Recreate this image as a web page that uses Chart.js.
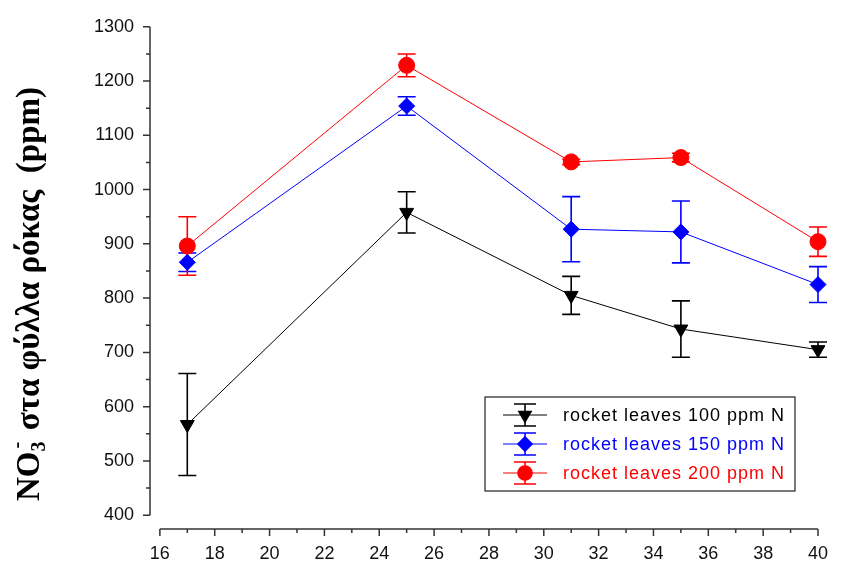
<!DOCTYPE html>
<html>
<head>
<meta charset="utf-8">
<script src="https://cdn.jsdelivr.net/npm/chart.js@4.4.1/dist/chart.umd.min.js"></script>
<style>
	html, body { margin: 0; padding: 0; background: #fff; }
	canvas { display: block; }
</style>
</head>
<body>
<canvas id="chart" width="842" height="565"></canvas>
<script>
const xValues = [17, 25, 31, 35, 40];

const n100 = [567, 958, 805, 743, 705];
const err100 = [94, 38, 35, 52, 14];

const n150 = [866, 1154, 927, 922, 825];
const err150 = [17, 17, 60, 57, 33];

const n200 = [896, 1229, 1051, 1059, 904];
const err200 = [54, 21, 5, 8, 27];

const seriesLabels = ['rocket leaves 100 ppm N', 'rocket leaves 150 ppm N', 'rocket leaves 200 ppm N'];

const xTickLabels = [16, 18, 20, 22, 24, 26, 28, 30, 32, 34, 36, 38, 40];
const xMinorTicks = [17, 19, 21, 23, 25, 27, 29, 31, 33, 35, 37, 39];
const yTickLabels = [400, 500, 600, 700, 800, 900, 1000, 1100, 1200, 1300];
const yMinorTicks = [450, 550, 650, 750, 850, 950, 1050, 1150, 1250];

const tickFont = { family: 'Liberation Sans, Arial, sans-serif', size: 18 };
const axisColor = '#333';

function points (ys) {
	return xValues.map((x, i) => ({ x: x, y: ys[i] }));
}

function makeSet (label, ys, errs, color, style, rotation) {
	return {
		label: label,
		data: points(ys),
		errors: errs,
		borderColor: color,
		backgroundColor: color,
		borderWidth: 1,
		pointStyle: style,
		pointRotation: rotation,
		pointRadius: 8,
		pointBorderWidth: 1,
		pointBackgroundColor: color,
		pointBorderColor: color,
		clip: false,
		tension: 0
	};
}

const errorBars = {
	id: 'errorBars',
	beforeDatasetsDraw (chart) {
		const ctx = chart.ctx;
		const x = chart.scales.x, y = chart.scales.y;
		ctx.save();
		chart.data.datasets.forEach(ds => {
			ctx.strokeStyle = ds.borderColor;
			ctx.lineWidth = 1.6;
			ds.data.forEach((p, i) => {
				const px = x.getPixelForValue(p.x);
				const top = y.getPixelForValue(p.y + ds.errors[i]);
				const bot = y.getPixelForValue(p.y - ds.errors[i]);
				ctx.beginPath();
				ctx.moveTo(px, top); ctx.lineTo(px, bot);
				ctx.moveTo(px - 9, top); ctx.lineTo(px + 9, top);
				ctx.moveTo(px - 9, bot); ctx.lineTo(px + 9, bot);
				ctx.stroke();
			});
		});
		ctx.restore();
	}
};

const axesPlugin = {
	id: 'axesPlugin',
	afterDraw (chart) {
		const ctx = chart.ctx;
		const x = chart.scales.x, y = chart.scales.y;
		const left = chart.chartArea.left, bottom = chart.chartArea.bottom;
		ctx.save();
		ctx.strokeStyle = axisColor;
		ctx.lineWidth = 1.5;
		ctx.beginPath();
		// y axis
		ctx.moveTo(left, y.getPixelForValue(1300));
		ctx.lineTo(left, y.getPixelForValue(400));
		yTickLabels.forEach(v => {
			const py = y.getPixelForValue(v);
			ctx.moveTo(left, py); ctx.lineTo(left - 7, py);
		});
		yMinorTicks.forEach(v => {
			const py = y.getPixelForValue(v);
			ctx.moveTo(left, py); ctx.lineTo(left - 4, py);
		});
		// x axis
		ctx.moveTo(x.getPixelForValue(16), bottom);
		ctx.lineTo(x.getPixelForValue(40), bottom);
		xTickLabels.forEach(v => {
			const px = x.getPixelForValue(v);
			ctx.moveTo(px, bottom); ctx.lineTo(px, bottom + 7);
		});
		xMinorTicks.forEach(v => {
			const px = x.getPixelForValue(v);
			ctx.moveTo(px, bottom); ctx.lineTo(px, bottom + 4);
		});
		ctx.stroke();

		// y title with sub/superscript
		const big = 'bold 33px "Liberation Serif", "Times New Roman", serif';
		const small = 'bold 20px "Liberation Serif", "Times New Roman", serif';
		const rest = ' στα φύλλα ρόκας  (ppm)';
		ctx.font = big;
		const wNO = ctx.measureText('NO').width;
		const wRest = ctx.measureText(rest).width;
		ctx.font = small;
		const wSub = ctx.measureText('3').width + 3;
		const total = wNO + wSub + wRest;
		ctx.translate(39, 294);
		ctx.rotate(-Math.PI / 2);
		ctx.fillStyle = '#000';
		ctx.textBaseline = 'alphabetic';
		let cx = -total / 2;
		ctx.font = big;
		ctx.fillText('NO', cx, 0);
		cx += wNO;
		ctx.font = small;
		ctx.fillText('3', cx, 6);
		ctx.fillText('-', cx + 3, -16);
		cx += wSub;
		ctx.font = big;
		ctx.fillText(rest, cx, 0);
		ctx.restore();

		// legend
		ctx.save();
		ctx.strokeStyle = '#222';
		ctx.lineWidth = 1.2;
		ctx.strokeRect(485, 397, 310, 94);
		const rows = [415, 444, 473];
		ctx.font = '18px "Liberation Sans", Arial, sans-serif';
		ctx.letterSpacing = '1px';
		ctx.textBaseline = 'middle';
		chart.data.datasets.forEach((ds, i) => {
			const ry = rows[i];
			ctx.strokeStyle = ds.borderColor;
			ctx.lineWidth = 1;
			ctx.beginPath();
			ctx.moveTo(503, ry); ctx.lineTo(547, ry);
			ctx.stroke();
			ctx.lineWidth = 1.6;
			ctx.beginPath();
			ctx.moveTo(525, ry - 11); ctx.lineTo(525, ry + 11);
			ctx.moveTo(514, ry - 11); ctx.lineTo(536, ry - 11);
			ctx.moveTo(514, ry + 11); ctx.lineTo(536, ry + 11);
			ctx.stroke();
			ctx.fillStyle = ds.borderColor;
			Chart.helpers.drawPoint(ctx, {
				pointStyle: ds.pointStyle, rotation: ds.pointRotation, radius: 7, borderWidth: 1
			}, 525, ry);
			ctx.fillStyle = ds.borderColor;
			ctx.fillText(ds.label, 563, ry + 1);
		});
		ctx.restore();
	}
};

new Chart(document.getElementById('chart'), {
	type: 'line',
	data: {
		datasets: [
			makeSet(seriesLabels[0], n100, err100, '#000000', 'triangle', 180),
			makeSet(seriesLabels[1], n150, err150, '#0000ff', 'rectRot', 0),
			makeSet(seriesLabels[2], n200, err200, '#ff0000', 'circle', 0)
		]
	},
	options: {
		responsive: false,
		animation: false,
		layout: { padding: { left: 0, top: 21, right: 12, bottom: 0 } },
		plugins: {
			legend: { display: false },
			tooltip: { enabled: false }
		},
		scales: {
			x: {
				type: 'linear',
				min: 15.64,
				max: 40,
				afterBuildTicks: scale => { scale.ticks = xTickLabels.map(v => ({ value: v })); },
				afterFit: scale => { scale.height = 36; },
				grid: { display: false, drawTicks: false },
				border: { display: false },
				ticks: { font: tickFont, color: '#111', padding: 14, maxRotation: 0, autoSkip: false, callback: v => String(v) }
			},
			y: {
				type: 'linear',
				min: 374.5,
				max: 1300,
				afterBuildTicks: scale => { scale.ticks = yTickLabels.map(v => ({ value: v })); },
				afterFit: scale => { scale.width = 150; },
				grid: { display: false, drawTicks: false },
				border: { display: false },
				ticks: { font: tickFont, color: '#111', padding: 16, callback: v => String(v) }
			}
		}
	},
	plugins: [errorBars, axesPlugin]
});
</script>
</body>
</html>
